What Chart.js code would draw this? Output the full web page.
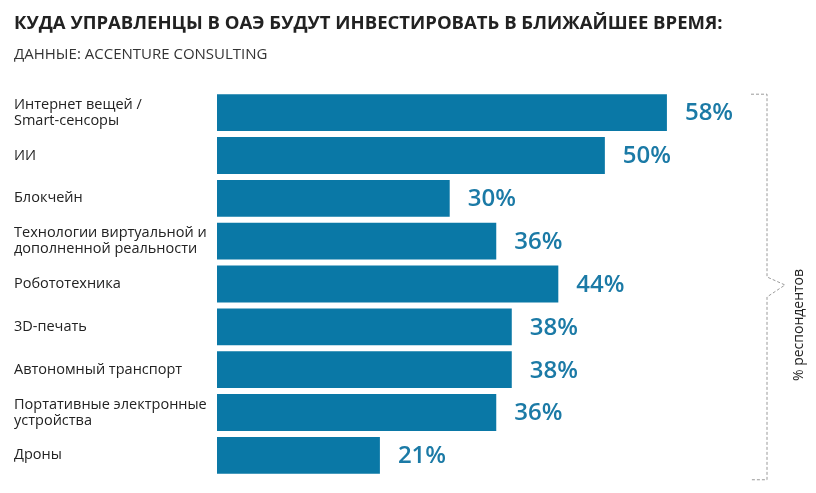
<!DOCTYPE html>
<html lang="ru">
<head>
<meta charset="utf-8">
<script src="https://cdn.jsdelivr.net/npm/chart.js@4"></script>
<style>
  html, body { margin: 0; padding: 0; background: #fff; }
  #wrap { width: 816px; height: 493px; position: relative; }
</style>
</head>
<body>
<div id="wrap"><canvas id="investChart"></canvas></div>
<script>
const categories = [
    ['Интернет вещей /', 'Smart-сенсоры'],
    'ИИ',
    'Блокчейн',
    ['Технологии виртуальной и', 'дополненной реальности'],
    'Робототехника',
    '3D-печать',
    'Автономный транспорт',
    ['Портативные электронные', 'устройства'],
    'Дроны'
];
const values = [58, 50, 30, 36, 44, 38, 38, 36, 21];
const axisNote = '% респондентов';

const barColor = '#0a78a6';
const labelColor = '#1b7aa6';

// value labels to the right of each bar
const valueLabels = {
    id: 'valueLabels',
    afterDatasetsDraw(chart) {
        const { ctx } = chart;
        const meta = chart.getDatasetMeta(0);
        ctx.save();
        ctx.font = '600 24px "Open Sans"';
        ctx.fillStyle = labelColor;
        ctx.textBaseline = 'middle';
        meta.data.forEach((bar, i) => {
            ctx.fillText(values[i] + '%', bar.x + 18, bar.y + 1);
        });
        ctx.restore();
    }
};

// dashed bracket with the "% респондентов" note
const bracket = {
    id: 'bracket',
    afterDraw(chart) {
        const { ctx, chartArea } = chart;
        const x = chartArea.right + 7;
        const top = chartArea.top + 3;
        const bottom = chartArea.bottom + 3;
        const mid = (chartArea.top + chartArea.bottom) / 2;
        ctx.save();
        ctx.strokeStyle = '#9a9a9a';
        ctx.lineWidth = 1;
        ctx.setLineDash([3, 2]);
        ctx.beginPath();
        ctx.moveTo(x - 16, top);
        ctx.lineTo(x, top);
        ctx.lineTo(x, mid - 7);
        ctx.lineTo(x + 18, mid + 1);
        ctx.lineTo(x, mid + 13);
        ctx.lineTo(x, bottom);
        ctx.lineTo(x - 16, bottom);
        ctx.stroke();
        ctx.restore();

        ctx.save();
        ctx.translate(x + 32, mid + 41);
        ctx.rotate(-Math.PI / 2);
        ctx.font = '14px "Open Sans"';
        ctx.fillStyle = '#222';
        ctx.textAlign = 'center';
        ctx.textBaseline = 'middle';
        ctx.fillText(axisNote, 0, 0);
        ctx.restore();
    }
};

const investChart = new Chart(document.getElementById('investChart').getContext('2d'), {
    type: 'bar',
    data: {
        labels: categories,
        datasets: [{
            data: values,
            backgroundColor: barColor,
            borderWidth: 0,
            barPercentage: 0.86,
            categoryPercentage: 1
        }]
    },
    options: {
        indexAxis: 'y',
        responsive: true,
        maintainAspectRatio: false,
        animation: false,
        layout: {
            padding: { left: 14, right: 56, top: 0, bottom: 16 }
        },
        scales: {
            x: {
                display: false,
                min: 0,
                max: 70
            },
            y: {
                grid: { display: false },
                border: { display: false },
                afterFit(scale) { scale.width = 203; },
                ticks: {
                    crossAlign: 'far',
                    padding: 0,
                    color: '#222',
                    font: { family: '"Open Sans"', size: 14.5, lineHeight: 1.12 }
                }
            }
        },
        plugins: {
            legend: { display: false },
            tooltip: { enabled: false },
            title: {
                display: true,
                align: 'start',
                text: 'КУДА УПРАВЛЕНЦЫ В ОАЭ БУДУТ ИНВЕСТИРОВАТЬ В БЛИЖАЙШЕЕ ВРЕМЯ:',
                color: '#222',
                font: { family: '"Open Sans"', size: 18.5, weight: 'bold', lineHeight: 1.2 },
                padding: { top: 13, bottom: 11 }
            },
            subtitle: {
                display: true,
                align: 'start',
                text: 'ДАННЫЕ: ACCENTURE CONSULTING',
                color: '#333',
                font: { family: '"Open Sans"', size: 15, lineHeight: 1.2 },
                padding: { top: 0, bottom: 27 }
            }
        }
    },
    plugins: [valueLabels, bracket]
});
</script>
</body>
</html>
